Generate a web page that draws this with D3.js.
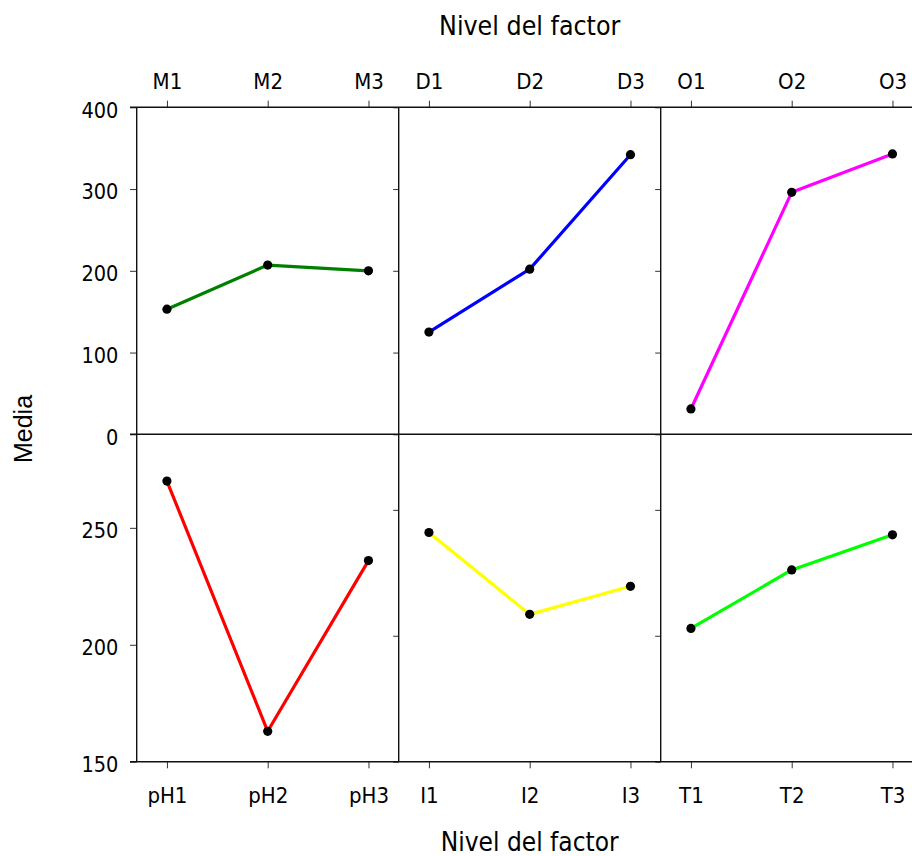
<!DOCTYPE html>
<html>
<head>
<meta charset="utf-8">
<script src="https://cdn.jsdelivr.net/npm/d3@7"></script>
<style>
  html, body { margin: 0; padding: 0; background: #fff; }
  svg { display: block; }
  .tick text { font-family: "DejaVu Sans Condensed", "DejaVu Sans", sans-serif; font-stretch: condensed; fill: #000; }
  .tick line { stroke: #333; stroke-width: 1; }
</style>
</head>
<body>
<svg id="chart" width="912" height="856"></svg>
<script>
// Factor levels per panel (top row: M, D, O; bottom row: pH, I, T)
const topLevels = [["M1", "M2", "M3"], ["D1", "D2", "D3"], ["O1", "O2", "O3"]];
const bottomLevels = [["pH1", "pH2", "pH3"], ["I1", "I2", "I3"], ["T1", "T2", "T3"]];

// Mean response at each level
const mMeans = [153, 207, 200];
const dMeans = [125, 202, 342];
const oMeans = [31, 296, 343];
const phMeans = [270, 163, 236];
const iMeans = [248, 213, 225];
const tMeans = [207, 232, 247];

// Line colour per factor
const topColors = ["#008000", "#0000ff", "#ff00ff"];
const bottomColors = ["#ff0000", "#ffff00", "#00ff00"];

// Axis ticks
const topTicks = [0, 100, 200, 300, 400];
const bottomTicks = [150, 200, 250];
const bottomInnerTicks = [150, 200, 250];

const titleText = "Nivel del factor";
const yTitle = "Media";

const svg = d3.select("#chart");

const left = 136.7, panelW = 262;
const top0 = 107.3, rowMid = 434.3, bottom0 = 761.7;

const yTop = d3.scaleLinear().domain([0, 400]).range([rowMid, top0]);
const yBottom = d3.scaleLinear().domain([150, 290]).range([bottom0, rowMid]);
const yBottomInner = d3.scaleLinear().domain([150, 280]).range([bottom0, rowMid]);

const rows = [
  { levels: topLevels, means: [mMeans, dMeans, oMeans], colors: topColors, y: yTop },
  { levels: bottomLevels, means: [phMeans, iMeans, tMeans], colors: bottomColors, y: yBottom }
];

const fontTick = 21.5;

// Left axes
const axTop = svg.append("g").attr("transform", `translate(${left},0)`)
  .call(d3.axisLeft(yTop).tickValues(topTicks).tickSize(6.7).tickPadding(11.7).tickSizeOuter(0));
const axBot = svg.append("g").attr("transform", `translate(${left},0)`)
  .call(d3.axisLeft(yBottom).tickValues(bottomTicks).tickSize(6.7).tickPadding(11.7).tickSizeOuter(0));
[axTop, axBot].forEach(g => {
  g.select(".domain").remove();
  g.selectAll("text").attr("dy", "0.46em").style("font-size", fontTick + "px");
});

// Inner ticks on the panel dividers
for (let i = 1; i < 3; i++) {
  const xd = left + i * panelW;
  const g1 = svg.append("g").attr("transform", `translate(${xd},0)`)
    .call(d3.axisLeft(yTop).tickValues(topTicks).tickSize(5.5).tickFormat("").tickSizeOuter(0));
  g1.select(".domain").remove();
  const g2 = svg.append("g").attr("transform", `translate(${xd},0)`)
    .call(d3.axisLeft(yBottomInner).tickValues(bottomInnerTicks).tickSize(5.5).tickFormat("").tickSizeOuter(0));
  g2.select(".domain").remove();
}

// Panels
rows.forEach((row, r) => {
  row.levels.forEach((lv, c) => {
    const px = left + c * panelW;
    const xs = d3.scalePoint().domain(lv).range([px, px + panelW]).padding(0.3);

    // x axis (top row on top, bottom row on bottom)
    const ax = r === 0
      ? d3.axisTop(xs).tickSize(6.6).tickPadding(11.4).tickSizeOuter(0)
      : d3.axisBottom(xs).tickSize(6.6).tickPadding(19.2).tickSizeOuter(0);
    const g = svg.append("g").attr("transform", `translate(0,${r === 0 ? top0 : bottom0})`).call(ax);
    g.select(".domain").remove();
    g.selectAll("text").style("font-size", (fontTick + 0.5) + "px");

    const pts = lv.map((name, k) => ({ name, v: row.means[c][k] }));
    const line = d3.line().x(d => xs(d.name)).y(d => row.y(d.v));
    svg.append("path").datum(pts)
      .attr("d", line)
      .attr("fill", "none")
      .attr("stroke", row.colors[c])
      .attr("stroke-width", 3.2)
      .attr("stroke-linejoin", "round");
    svg.append("g").selectAll("circle").data(pts).join("circle")
      .attr("cx", d => xs(d.name))
      .attr("cy", d => row.y(d.v))
      .attr("r", 4.6)
      .attr("fill", "#000");
  });
});

// Panel frames
const frame = svg.append("g").attr("fill", "none").attr("stroke", "#111").attr("stroke-width", 1.4);
[top0, rowMid, bottom0].forEach(yv => {
  frame.append("line").attr("x1", left - 6.7).attr("x2", left + 3 * panelW).attr("y1", yv).attr("y2", yv);
});
for (let i = 0; i <= 3; i++) {
  frame.append("line").attr("x1", left + i * panelW).attr("x2", left + i * panelW).attr("y1", top0).attr("y2", bottom0);
}

// Titles
const titleFont = "\"DejaVu Sans Condensed\", \"DejaVu Sans\", sans-serif";
svg.append("text")
  .attr("x", left + 1.5 * panelW).attr("y", 35)
  .attr("text-anchor", "middle")
  .style("font-family", titleFont)
  .style("font-stretch", "condensed")
  .style("font-size", "26.5px")
  .text(titleText);
svg.append("text")
  .attr("x", left + 1.5 * panelW).attr("y", 851)
  .attr("text-anchor", "middle")
  .style("font-family", titleFont)
  .style("font-stretch", "condensed")
  .style("font-size", "26px")
  .text(titleText);
svg.append("text")
  .attr("transform", "translate(31.5,429) rotate(-90)")
  .attr("text-anchor", "middle")
  .style("font-family", "\"Liberation Sans\", Arial, sans-serif")
  .style("font-size", "25px")
  .text(yTitle);
</script>
</body>
</html>
